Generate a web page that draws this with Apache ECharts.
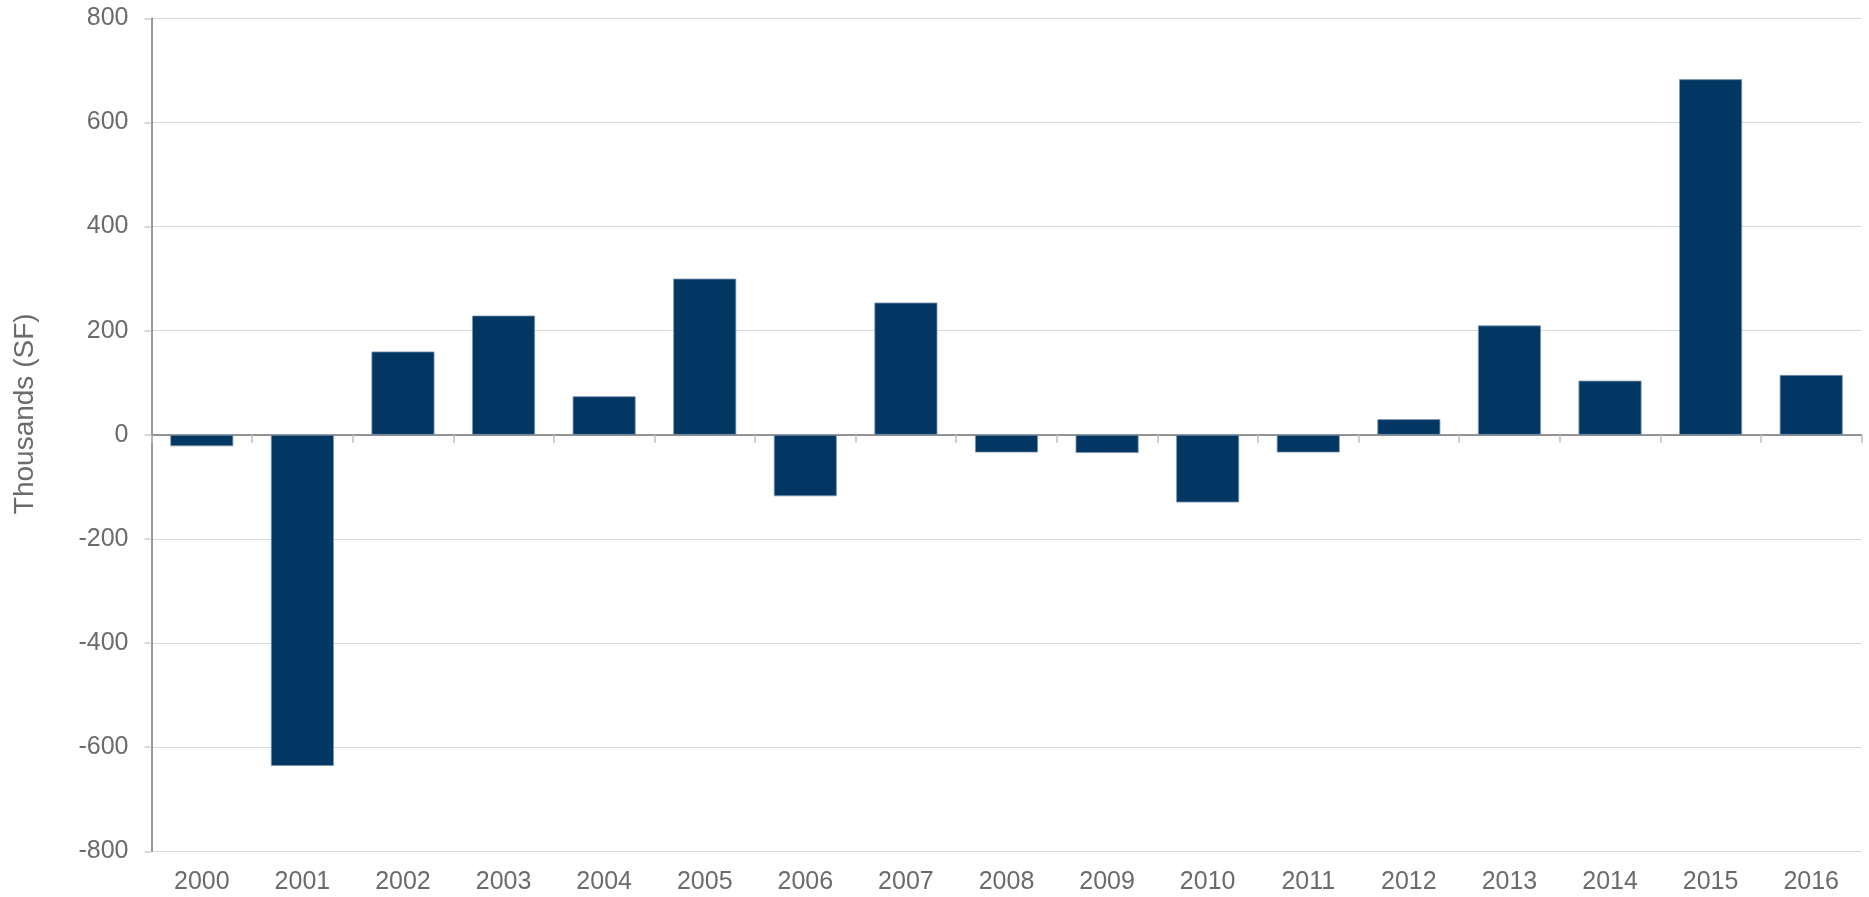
<!DOCTYPE html>
<html>
<head>
<meta charset="utf-8">
<script src="https://cdn.jsdelivr.net/npm/echarts@6/dist/echarts.min.js"></script>
<style>
html,body{margin:0;padding:0;background:#fff;}
#c{width:1869px;height:897px;}
</style>
</head>
<body>
<div id="c"></div>
<script>
const categories = ['2000','2001','2002','2003','2004','2005','2006','2007','2008','2009','2010','2011','2012','2013','2014','2015','2016'];
const values = [-22, -636, 160, 229, 74, 300, -118, 254, -34, -35, -130, -34, 30, 210, 104, 683, 115];
const yTicks = {min: -800, max: 800, interval: 200};
const yName = 'Thousands (SF)';

const chart = echarts.init(document.getElementById('c'), null, {renderer: 'canvas'});
const font = 'Liberation Sans, Arial, sans-serif';
chart.setOption({
  animation: false,
  backgroundColor: '#ffffff',
  grid: {left: 151.5, right: 7.5, top: 18.3, bottom: 45.7, containLabel: false},
  xAxis: [
    {
      type: 'category', data: categories, position: 'bottom',
      axisLine: {show: false, onZero: false},
      axisTick: {show: false},
      axisLabel: {color: '#6b6b6b', fontSize: 25, fontFamily: font, margin: 18},
      splitLine: {show: false}
    },
    {
      type: 'category', data: categories, position: 'bottom',
      axisLine: {show: true, onZero: true, lineStyle: {color: '#767676', width: 1.5}},
      axisTick: {show: true, length: 8, lineStyle: {color: '#bfbfbf', width: 1.5}},
      axisLabel: {show: false},
      splitLine: {show: false}
    }
  ],
  yAxis: {
    type: 'value', min: yTicks.min, max: yTicks.max, interval: yTicks.interval,
    name: yName, nameLocation: 'middle', nameGap: 112, nameRotate: 90,
    nameTextStyle: {color: '#6b6b6b', fontSize: 28, fontFamily: font, padding: [0, 0, 0, 42]},
    axisLine: {show: true, lineStyle: {color: '#767676', width: 1.5}},
    axisTick: {show: true, length: 7, lineStyle: {color: '#d0d0d0', width: 1.5}},
    axisLabel: {color: '#6b6b6b', fontSize: 25, fontFamily: font, margin: 23},
    splitLine: {show: true, lineStyle: {color: '#d9d9d9', width: 1.2}}
  },
  series: [{
    type: 'bar', data: values, xAxisIndex: 0, barWidth: 63,
    itemStyle: {color: '#023763', borderColor: '#7f97b0', borderWidth: 0.8}
  }]
});
</script>
</body>
</html>
